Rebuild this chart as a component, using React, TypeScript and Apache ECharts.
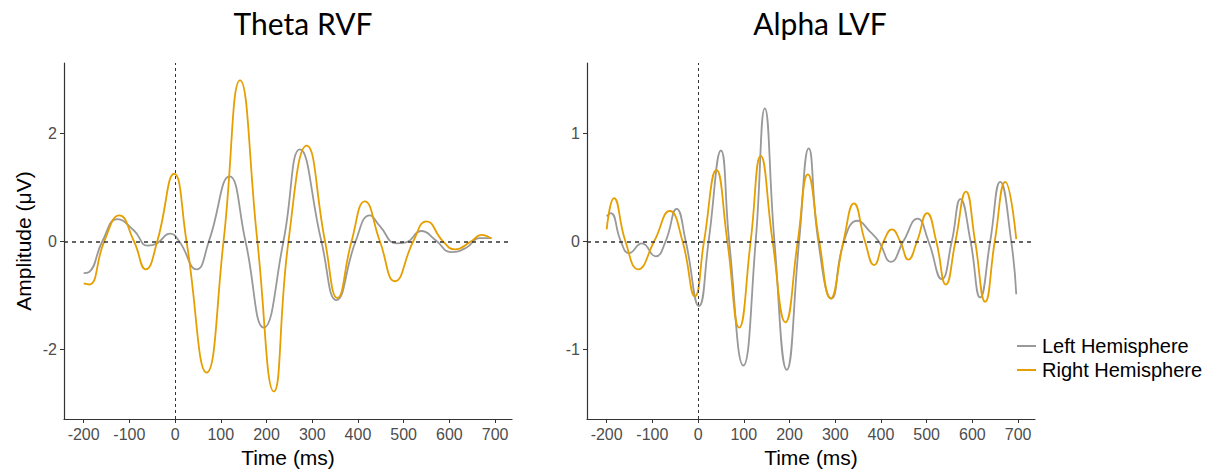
import React, { useEffect, useRef } from "react";
import * as echarts from "echarts";

// ---- tick labels ----
const xTicks = [-200, -100, 0, 100, 200, 300, 400, 500, 600, 700];
const thetaYTicks = [-2, 0, 2];
const alphaYTicks = [-1, 0, 1];

// ---- Theta RVF ----
const thetaLeftTime = [-200, -188, -159, -126, -90, -60, -40, -11, 9, 47, 74, 119, 154, 194, 237, 273, 320, 353, 395, 426, 448, 484, 505, 539, 570, 604, 637, 666, 692];
const thetaLeftAmp = [-0.59, -0.57, 0, 0.41, 0.2, -0.08, -0.04, 0.14, 0, -0.52, 0, 1.2, 0, -1.6, 0, 1.7, 0, -1.09, 0, 0.48, 0.28, -0.04, -0.02, 0.19, 0.02, -0.2, -0.12, 0.06, 0.06];

const thetaRightTime = [-200, -188, -155, -122, -90, -64, -39, -2, 25, 69, 106, 142, 180, 216, 248, 288, 328, 355, 386, 415, 448, 481, 521, 550, 586, 612, 648, 670, 692];
const thetaRightAmp = [-0.78, -0.8, 0, 0.48, 0, -0.52, 0, 1.25, 0, -2.43, 0, 2.98, 0, -2.78, 0, 1.77, 0, -1.05, 0, 0.74, 0, -0.74, 0, 0.37, 0, -0.15, 0, 0.12, 0.05];

// ---- Alpha LVF ----
const alphaLeftTime = [-200, -191, -169, -151, -123, -93, -71, -47, -27, 2, 23, 50, 68, 99, 126, 146, 167, 194, 221, 242, 263, 292, 319, 349, 376, 395, 422, 449, 480, 504, 533, 555, 574, 596, 617, 639, 661, 685, 696];
const alphaLeftAmp = [0.23, 0.26, 0, -0.11, -0.02, -0.14, 0, 0.3, 0, -0.6, 0, 0.84, 0, -1.15, 0, 1.23, 0, -1.19, 0, 0.86, 0, -0.53, 0, 0.19, 0.09, 0, -0.19, 0, 0.21, 0, -0.35, 0, 0.39, 0, -0.52, 0, 0.55, 0, -0.49];

const alphaRightTime = [-200, -184, -159, -131, -96, -62, -34, -7, 13, 40, 64, 90, 115, 137, 163, 191, 218, 240, 265, 290, 318, 341, 365, 385, 406, 424, 442, 460, 479, 501, 521, 542, 563, 586, 606, 628, 649, 672, 696];
const alphaRightAmp = [0.11, 0.4, 0, -0.26, 0, 0.28, 0, -0.51, 0, 0.66, 0, -0.8, 0, 0.79, 0, -0.75, 0, 0.62, 0, -0.53, 0, 0.35, 0, -0.22, 0, 0.11, 0, -0.17, 0, 0.26, 0, -0.4, 0, 0.46, 0, -0.56, 0, 0.55, 0.02];

const seriesNames = ["Left Hemisphere", "Right Hemisphere"];
const titles = ["Theta RVF", "Alpha LVF"];

const GRAY = "#999999";
const ORANGE = "#E69F00";
const FONT = "'Liberation Sans', Arial, sans-serif";

const zip = (t: number[], v: number[]) => t.map((x, i) => [x, v[i]]);

export default function App() {
  const ref = useRef<HTMLDivElement>(null);
  useEffect(() => {
    const chart = echarts.init(ref.current!, null, { renderer: "svg" });

    const xAxis = (gridIndex: number) => ({
      type: "value",
      gridIndex,
      min: -243,
      max: 737,
      axisLine: { show: true, onZero: false, lineStyle: { color: "#333", width: 1.2 } },
      axisTick: { show: true, length: 4, customValues: xTicks, lineStyle: { color: "#333" } },
      axisLabel: { customValues: xTicks, color: "#4d4d4d", fontSize: 16, fontFamily: FONT, margin: 7 },
      splitLine: { show: false },
      name: "Time (ms)",
      nameLocation: "middle",
      nameGap: 18,
      nameTextStyle: { fontSize: 21, color: "#000", fontFamily: FONT },
    });

    const yAxis = (gridIndex: number, ticks: number[], min: number, max: number, name: string) => ({
      type: "value",
      gridIndex,
      min,
      max,
      axisLine: { show: true, onZero: false, lineStyle: { color: "#333", width: 1.2 } },
      axisTick: { show: true, length: 4, customValues: ticks, lineStyle: { color: "#333" } },
      axisLabel: { customValues: ticks, color: "#4d4d4d", fontSize: 16, fontFamily: FONT, margin: 7 },
      splitLine: { show: false },
      name,
      nameLocation: "middle",
      nameGap: 30,
      nameRotate: 90,
      nameTextStyle: { fontSize: 21, color: "#000", fontFamily: FONT },
    });

    const refLines = {
      silent: true,
      symbol: "none",
      label: { show: false },
      emphasis: { disabled: true },
      data: [
        { yAxis: 0, lineStyle: { type: [4, 4], color: "#333", width: 1.5 } },
        { xAxis: 0, lineStyle: { type: [3, 3], color: "#333", width: 1 } },
      ],
    };

    const line = (name: string, color: string, idx: number, data: number[][], withRef: boolean) => ({
      type: "line",
      name,
      xAxisIndex: idx,
      yAxisIndex: idx,
      data,
      smooth: 0.5,
      symbol: "none",
      showSymbol: false,
      color,
      lineStyle: { color, width: 1.8 },
      emphasis: { disabled: true },
      ...(withRef ? { markLine: refLines } : {}),
    });

    chart.setOption({
      animation: false,
      backgroundColor: "#ffffff",
      grid: [
        { left: 64, top: 63, width: 448, height: 356 },
        { left: 587, top: 63, width: 448, height: 356 },
      ],
      xAxis: [xAxis(0), xAxis(1)],
      yAxis: [
        yAxis(0, thetaYTicks, -3.29, 3.3, "Amplitude (\u03bcV)"),
        yAxis(1, alphaYTicks, -1.645, 1.65, ""),
      ],
      legend: {
        data: seriesNames,
        orient: "vertical",
        left: 1012,
        top: 331,
        icon: "rect",
        itemWidth: 19,
        itemHeight: 2,
        itemGap: 4,
        textStyle: { fontSize: 20, color: "#000", fontFamily: FONT, padding: [0, 0, 0, 1] },
        selectedMode: false,
      },
      graphic: [
        { type: "text", x: 303, y: 23, style: { text: titles[0], font: "30px Lato", fill: "#000", textAlign: "center", textVerticalAlign: "middle" } },
        { type: "text", x: 820, y: 23, style: { text: titles[1], font: "30px Lato", fill: "#000", textAlign: "center", textVerticalAlign: "middle" } },
      ],
      series: [
        line(seriesNames[0], GRAY, 0, zip(thetaLeftTime, thetaLeftAmp), true),
        line(seriesNames[1], ORANGE, 0, zip(thetaRightTime, thetaRightAmp), false),
        line(seriesNames[0], GRAY, 1, zip(alphaLeftTime, alphaLeftAmp), true),
        line(seriesNames[1], ORANGE, 1, zip(alphaRightTime, alphaRightAmp), false),
      ],
    });
    return () => chart.dispose();
  }, []);
  return (
    <div
      ref={ref}
      style={{ position: "fixed", left: 0, top: 0, width: 1218, height: 475, background: "#fff" }}
    />
  );
}
